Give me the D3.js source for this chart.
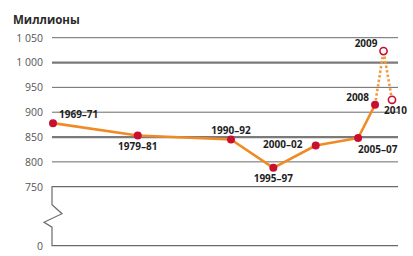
<!DOCTYPE html>
<html><head><meta charset="utf-8">
<script src="https://cdn.jsdelivr.net/npm/d3@7"></script>
<style>
html,body{margin:0;padding:0;background:#fff;}
svg{display:block;font-family:"Open Sans",sans-serif;}
</style></head>
<body>
<svg id="chart" width="413" height="256"></svg>
<script>
const labels = ["1969–71","1979–81","1990–92","1995–97","2000–02","2005–07","2008","2009","2010"];
const years  = [1970, 1980, 1991, 1996, 2001, 2006, 2008, 2009, 2010];
const values = [878, 853, 845, 788, 833, 848, 915, 1023, 925];
const estimated = [false,false,false,false,false,false,false,true,true];
const yTicks = [750, 800, 850, 900, 950, 1000, 1050];
const yTickLabels = ["750","800","850","900","950","1 000","1 050"];
const labelPos = ["ar","b","a","b","al","br","l","l","rb"];
const title = "Миллионы";

const svg = d3.select("#chart");
const x = d3.scaleLinear().domain([1970, 2010]).range([53, 392]);
const y = d3.scaleLinear().domain([750, 1050]).range([186.7, 37.7]);
const yZero = 245.7;
const gx0 = 52, gx1 = 398;

svg.append("text").attr("x", 13).attr("y", 23.5)
  .attr("font-size", 11.5).attr("font-weight", 700).attr("fill", "#2a2a2a").text(title);

// gridlines
const thick = new Set([1000, 850]);
svg.append("g").selectAll("line").data(yTicks.filter(d => d !== 750)).join("line")
  .attr("x1", gx0).attr("x2", gx1)
  .attr("y1", d => y(d)).attr("y2", d => y(d))
  .attr("stroke", d => thick.has(d) ? "#7a7a7a" : "#6a6a6a")
  .attr("stroke-width", d => thick.has(d) ? 2.2 : 1);

// axis break box
const bx = gx0, by = y(750);
svg.append("path")
  .attr("d", `M${gx1},${by} L${bx},${by} L${bx},${by+18} L${bx+10},${by+27} L${bx-8},${by+35.5} L${bx},${by+40.5} L${bx},${yZero} L${gx1},${yZero}`)
  .attr("fill", "none").attr("stroke", "#6a6a6a").attr("stroke-width", 1.2);

// tick labels
const tl = svg.append("g").attr("font-size", 10.5).attr("fill", "#555").attr("text-anchor", "end");
tl.selectAll("text").data(yTicks).join("text")
  .attr("x", 43).attr("y", d => y(d) + 3.8)
  .text((d, i) => yTickLabels[i]);
tl.append("text").attr("x", 43).attr("y", yZero + 3.8).text("0");

const pts = years.map((yr, i) => ({yr, v: values[i], label: labels[i], est: estimated[i], pos: labelPos[i]}));
const line = d3.line().x(d => x(d.yr)).y(d => y(d.v));
const solid = pts.filter(d => !d.est);
const dotted = [solid[solid.length - 1]].concat(pts.filter(d => d.est));

svg.append("path").attr("d", line(solid)).attr("fill", "none")
  .attr("stroke", "#f08a24").attr("stroke-width", 2.6).attr("stroke-linejoin", "round");
svg.append("path").attr("d", line(dotted)).attr("fill", "none")
  .attr("stroke", "#f29a3c").attr("stroke-width", 2.6).attr("stroke-dasharray", "2.4,2.2");

svg.append("g").selectAll("circle").data(pts).join("circle")
  .attr("cx", d => x(d.yr)).attr("cy", d => y(d.v))
  .attr("r", d => d.est ? 3.6 : 4)
  .attr("fill", d => d.est ? "#fff" : "#c8102e")
  .attr("stroke", "#c8102e").attr("stroke-width", d => d.est ? 1.6 : 0);

const off = {
  ar: [6, -5, "start"], b: [0, 14, "middle"], a: [0, -6, "middle"],
  al: [-33, 3, "middle"], br: [0, 15, "start"], l: [-6, -4, "end"], rb: [-8, 14, "start"]
};
svg.append("g").attr("font-size", 10).attr("font-weight", 700).attr("fill", "#1e1e1e")
  .selectAll("text").data(pts).join("text")
  .attr("x", d => x(d.yr) + off[d.pos][0])
  .attr("y", d => y(d.v) + off[d.pos][1])
  .attr("text-anchor", d => off[d.pos][2])
  .text(d => d.label);
</script>
</body></html>
